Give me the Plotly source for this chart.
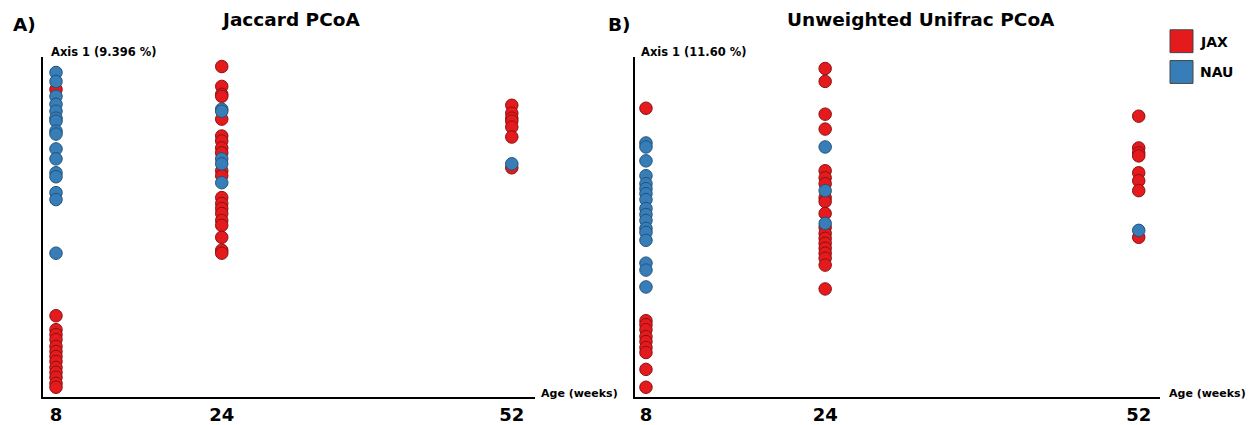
import plotly.graph_objects as go

W, H = 1250, 425

# ---- data: Axis 1 scores by age (weeks) and group ----
jac_jax_age = [8] * 14 + [24] * 20 + [52] * 7
jac_jax_ax1 = [0.142, -0.086, -0.100, -0.105, -0.110, -0.117, -0.122, -0.127, -0.132, -0.138, -0.143, -0.148, -0.154, -0.158,
               0.165, 0.145, 0.137, 0.135, 0.112, 0.095, 0.090, 0.083, 0.078, 0.060, 0.055, 0.033, 0.027, 0.022, 0.017, 0.010, 0.005, -0.007, -0.020, -0.023,
               0.126, 0.118, 0.113, 0.110, 0.104, 0.094, 0.063]
jac_nau_age = [8] * 16 + [24] * 5 + [52] * 1
jac_nau_ax1 = [0.159, 0.150, 0.135, 0.127, 0.120, 0.113, 0.110, 0.100, 0.097, 0.082, 0.072, 0.058, 0.054, 0.038, 0.031, -0.023,
               0.122, 0.120, 0.072, 0.067, 0.048,
               0.067]

uni_jax_age = [8] * 10 + [24] * 19 + [52] * 8
uni_jax_ax1 = [0.123, -0.091, -0.095, -0.100, -0.107, -0.112, -0.118, -0.123, -0.140, -0.158,
               0.163, 0.150, 0.117, 0.102, 0.060, 0.053, 0.047, 0.033, 0.029, 0.017, 0.003, -0.003, -0.008, -0.013, -0.018, -0.023, -0.028, -0.035, -0.059,
               0.115, 0.083, 0.078, 0.075, 0.058, 0.050, 0.040, -0.007]
uni_nau_age = [8] * 17 + [24] * 3 + [52] * 1
uni_nau_ax1 = [0.088, 0.084, 0.070, 0.055, 0.047, 0.042, 0.037, 0.031, 0.022, 0.016, 0.010, 0.002, -0.002, -0.010, -0.033, -0.040, -0.057,
               0.084, 0.040, 0.007,
               0.000]

age_ticks = [8, 24, 52]
groups = ["JAX", "NAU"]
titles = ["Jaccard PCoA", "Unweighted Unifrac PCoA"]
panel_labels = ["A)", "B)"]
y_labels = ["Axis 1 (9.396 %)", "Axis 1 (11.60 %)"]

# ---- style ----
FONT = "DejaVu Sans"
fill = {"JAX": "#e41a1c", "NAU": "#377eb8"}
edge = {"JAX": "#8a1214", "NAU": "#23527a"}

def px_x(p):
    return p / W

def px_y(p):
    return 1 - p / H

fig = go.Figure()

panels = [
    dict(xa="x", ya="y", data={"JAX": (jac_jax_age, jac_jax_ax1), "NAU": (jac_nau_age, jac_nau_ax1)}),
    dict(xa="x2", ya="y2", data={"JAX": (uni_jax_age, uni_jax_ax1), "NAU": (uni_nau_age, uni_nau_ax1)}),
]
for p in panels:
    for g in groups:
        xs, ys = p["data"][g]
        fig.add_trace(go.Scatter(
            x=xs, y=ys, mode="markers", name=g, showlegend=False,
            xaxis=p["xa"], yaxis=p["ya"],
            marker=dict(size=12.5, color=fill[g], line=dict(color=edge[g], width=1)),
        ))

ydom = [px_y(400), px_y(57)]
axis_common = dict(showgrid=False, zeroline=False, showline=True, linecolor="black", linewidth=2,
                   ticks="", fixedrange=True)
fig.update_layout(
    width=W, height=H,
    margin=dict(l=0, r=0, t=0, b=0),
    paper_bgcolor="white", plot_bgcolor="white",
    font=dict(family=FONT, color="black"),
    xaxis=dict(domain=[px_x(43), px_x(535)], range=[6.745, 54.24], tickvals=age_ticks,
               tickfont=dict(size=18, family=FONT), **axis_common),
    yaxis=dict(domain=ydom, range=[-0.168, 0.175], showticklabels=False, **axis_common),
    xaxis2=dict(domain=[px_x(635), px_x(1160)], range=[7.02, 53.9], tickvals=age_ticks, anchor="y2",
                tickfont=dict(size=18, family=FONT), **axis_common),
    yaxis2=dict(domain=ydom, range=[-0.168, 0.175], showticklabels=False, anchor="x2", **axis_common),
)
fig.update_xaxes(ticktext=[f"<b>{t}</b>" for t in age_ticks])

ann = []
for i, (tx, cx, lx, ax0, agex) in enumerate([(titles[0], 290, 11, 50, 540), (titles[1], 921, 606, 640, 1168)]):
    ann.append(dict(text=f"<b>{tx}</b>", x=px_x(cx), y=px_y(20), xref="paper", yref="paper",
                    xanchor="center", yanchor="middle", showarrow=False, font=dict(size=18.5, family=FONT)))
    ann.append(dict(text=f"<b>{panel_labels[i]}</b>", x=px_x(lx), y=px_y(25), xref="paper", yref="paper",
                    xanchor="left", yanchor="middle", showarrow=False, font=dict(size=18.5, family=FONT)))
    ann.append(dict(text=f"<b>{y_labels[i]}</b>", x=px_x(ax0 - 1), y=px_y(52), xref="paper", yref="paper",
                    xanchor="left", yanchor="middle", showarrow=False, font=dict(size=11.5, family=FONT)))
    ann.append(dict(text="<b>Age (weeks)</b>", x=px_x(agex - 1), y=px_y(396), xref="paper", yref="paper",
                    xanchor="left", yanchor="middle", showarrow=False, font=dict(size=11, family=FONT)))

# legend (square swatches)
shapes = []
for j, g in enumerate(groups):
    top = 30 + j * 31
    shapes.append(dict(type="rect", xref="paper", yref="paper",
                       x0=px_x(1170), x1=px_x(1193), y0=px_y(top + 23), y1=px_y(top),
                       fillcolor=fill[g], line=dict(color="#444444", width=1)))
    ann.append(dict(text=f"<b>{g}</b>", x=px_x(1198), y=px_y(top + 12), xref="paper", yref="paper",
                    xanchor="left", yanchor="middle", showarrow=False, font=dict(size=14, family=FONT)))

fig.update_layout(annotations=ann, shapes=shapes)
fig.write_html("out.html")
